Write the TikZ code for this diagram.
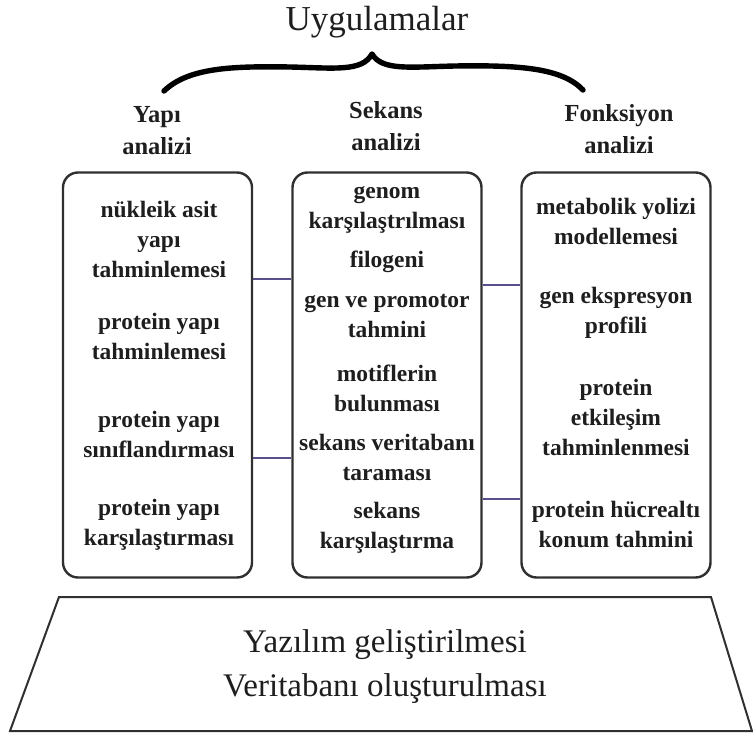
\documentclass[tikz,border=0pt]{standalone}
\usepackage{fontspec}
\setmainfont{Liberation Serif}
\definecolor{ink}{HTML}{1E1E1E}
\definecolor{boxgray}{HTML}{303030}
\definecolor{linkpurple}{HTML}{5B4E8C}
\begin{document}
\begin{tikzpicture}[x=1pt,y=-1pt,
  panel/.style={draw=boxgray, line width=2.4pt, rounded corners=15pt,
                minimum width=189pt, minimum height=405pt, inner sep=0pt},
  item/.style={align=center, text=ink, inner sep=0pt,
               font=\fontsize{23.5}{30}\selectfont\bfseries},
  head/.style={align=center, text=ink, inner sep=0pt,
               font=\fontsize{24.5}{32}\selectfont\bfseries},
  link/.style={draw=linkpurple, line width=1.4pt},
  bracepath/.style={draw=black, line width=5.4pt, line cap=round, line join=round},
  basebox/.style={draw=boxgray, line width=2pt, line join=miter},
]
\useasboundingbox (0,0) rectangle (753,733);

% title and brace
\node[text=ink, font=\fontsize{35}{40}\selectfont] (title) at (377,22) {Uygulamalar};
\draw[bracepath] (164,91) .. controls (188,68) and (230,66) .. (290,67)
  .. controls (335,68) and (362,72) .. (372,54)
  .. controls (382,71) and (410,67) .. (455,66)
  .. controls (520,65) and (562,68) .. (583,90);

% column headings
\node[head] (hyapi)   at (157,131) {Yapı\\analizi};
\node[head] (hsekans) at (386,126) {Sekans\\analizi};
\node[head] (hfonk)   at (619,129) {Fonksiyon\\analizi};

% the three panels
\node[panel] (yapi)   at (157.5,375) {};
\node[panel] (sekans) at (387,375) {};
\node[panel] (fonk)   at (616,375) {};

% structure analysis
\node[item] (y1) at (159,239) {nükleik asit\\yapı\\tahminlemesi};
\node[item] (y2) at (159,336) {protein yapı\\tahminlemesi};
\node[item] (y3) at (159,434) {protein yapı\\sınıflandırması};
\node[item] (y4) at (159,525) {protein yapı\\karşılaştırması};

% sequence analysis
\node[item] (s1) at (387,210) {genom\\karşılaştrılması};
\node[item] (s2) at (387,262) {filogeni};
\node[item] (s3) at (387,316) {gen ve promotor\\tahmini};
\node[item] (s4) at (387,388) {motiflerin\\bulunması};
\node[item] (s5) at (387,457) {sekans veritabanı\\taraması};
\node[item] (s6) at (387,528) {sekans\\karşılaştırma};

% function analysis
\node[item] (f1) at (616,221) {metabolik yolizi\\modellemesi};
\node[item] (f2) at (616,313) {gen ekspresyon\\profili};
\node[item] (f3) at (616,417) {protein\\etkileşim\\tahminlenmesi};
\node[item] (f4) at (616,524) {protein hücrealtı\\konum tahmini};

% links between the panels
\coordinate (la) at (0,279);
\coordinate (lb) at (0,458);
\coordinate (ra) at (0,285);
\coordinate (rb) at (0,499);
\draw[link] (yapi.east |- la) -- (sekans.west |- la);
\draw[link] (yapi.east |- lb) -- (sekans.west |- lb);
\draw[link] (sekans.east |- ra) -- (fonk.west |- ra);
\draw[link] (sekans.east |- rb) -- (fonk.west |- rb);

% foundation
\coordinate (b1) at (59,597);
\coordinate (b2) at (711,597);
\coordinate (b3) at (752,731);
\coordinate (b4) at (10,731);
\draw[basebox] (b1) -- (b2) -- (b3) -- (b4) -- cycle;
\node[align=center, text=ink, font=\fontsize{33}{44}\selectfont] (base) at (385,667)
  {Yazılım geliştirilmesi\\Veritabanı oluşturulması};
\end{tikzpicture}
\end{document}
